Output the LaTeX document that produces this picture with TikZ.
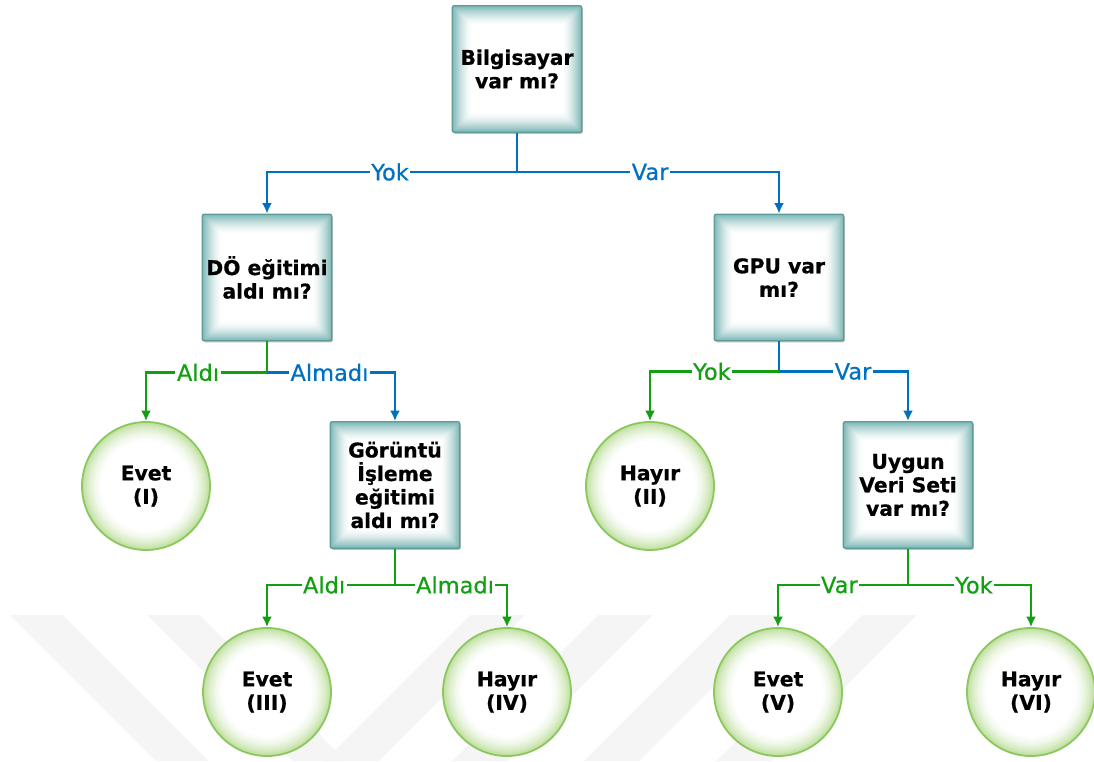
\documentclass[tikz,border=0pt]{standalone}
\usepackage{fontspec}
\setmainfont{DejaVu Sans}
\newfontface\boxfont{DejaVu Sans Bold}[FakeBold=0.6]
\newfontface\armfont{DejaVu Sans}[FakeBold=0.5]
\usetikzlibrary{arrows.meta,calc,shadows}

\definecolor{edgeblue}{HTML}{0070C0}
\definecolor{edgegreen}{HTML}{12A012}
\definecolor{boxrim}{HTML}{5E9C9C}
\definecolor{boxglow}{HTML}{7DB8B6}
\definecolor{leafrim}{HTML}{8CC85E}
\definecolor{leafglow}{HTML}{BEDF9E}
\definecolor{bgmark}{HTML}{F5F5F5}

\tikzset{
  qbox/.style={rectangle, rounded corners=2pt, minimum width=129.5pt, minimum height=126.5pt,
    draw=boxrim, line width=1.4pt, align=center, inner sep=0pt,
    font=\boxfont\fontsize{20.3}{23.5}\selectfont,
    drop shadow={shadow xshift=1.2pt, shadow yshift=-1.5pt, opacity=0.25, fill=black},
    path picture={
      \foreach \k in {0,...,19}{
        \pgfmathtruncatemacro\p{100*(1-\k/20)^1.6}
        \fill[boxglow!\p!white]
          ([shift={(\k pt,-\k pt)}]path picture bounding box.north west) rectangle
          ([shift={(-\k pt,\k pt)}]path picture bounding box.south east);
      }}},
  leaf/.style={circle, minimum size=128pt, draw=leafrim, line width=1.8pt, align=center,
    inner sep=0pt, font=\boxfont\fontsize{20.3}{23.5}\selectfont,
    path picture={
      \foreach \k in {0,...,20}{
        \pgfmathtruncatemacro\p{100*(1-\k/21)^1.7}
        \pgfmathsetmacro\r{64-\k}
        \fill[leafglow!\p!white] (path picture bounding box.center) circle[radius=\r pt];
      }}},
  bl/.style={draw=edgeblue, line width=2.5pt},
  gr/.style={draw=edgegreen, line width=2.5pt},
  tip/.style={-{Latex[length=10.5pt,width=10pt]}},
  lbl/.style={fill=white, inner sep=1.5pt, font=\armfont\fontsize{22.5}{25}\selectfont},
  lblb/.style={lbl, text=edgeblue},
  lblg/.style={lbl, text=edgegreen},
  stripe/.style={fill=bgmark, draw=none}
}

\begin{document}
\begin{tikzpicture}[x=1pt, y=-1pt]
\useasboundingbox (0,0) rectangle (1094,761);
\fill[white] (0,0) rectangle (1094,761);

% faint background stripes
\foreach \x in {10,147}{
  \fill[stripe] (\x,615) -- (\x+53,615) -- (\x+53+146,761) -- (\x+146,761) -- cycle;
}
\foreach \x in {470,598,730,862}{
  \fill[stripe] (\x,615) -- (\x+55,615) -- (\x+55-146,761) -- (\x-146,761) -- cycle;
}

% decision boxes
\node[qbox] (root)  at (517,69)    {Bilgisayar\\var mı?};
\node[qbox] (do)    at (267,277.5) {DÖ eğitimi\\aldı mı?};
\node[qbox] (gpu)   at (779,277.5) {GPU var\\mı?};
\node[qbox] (goru)  at (395,485)   {Görüntü\\İşleme\\eğitimi\\aldı mı?};
\node[qbox] (uygun) at (908,485)   {Uygun\\Veri Seti\\var mı?};

% outcomes
\node[leaf] (l1) at (146,486)  {Evet\\(I)};
\node[leaf] (l2) at (650,486)  {Hayır\\(II)};
\node[leaf] (l3) at (267,692)  {Evet\\(III)};
\node[leaf] (l4) at (507,692)  {Hayır\\(IV)};
\node[leaf] (l5) at (778,692)  {Evet\\(V)};
\node[leaf] (l6) at (1031,692) {Hayır\\(VI)};

% branch points
\coordinate (j0) at ($(root.south)+(0,39)$);
\coordinate (j1) at ($(do.south)+(0,31)$);
\coordinate (j2) at ($(gpu.south)+(0,30)$);
\coordinate (j3) at ($(goru.south)+(0,36)$);
\coordinate (j4) at ($(uygun.south)+(0,36)$);

% connectors
\draw[bl] (root.south) -- (j0);
\draw[bl,tip] (j0) -| node[lblb,pos=.254] {Yok} (do.north);
\draw[bl,tip] (j0) -| node[lblb,pos=.254] {Var} (gpu.north);

\draw[gr] (do.south) -- (j1);
\draw[gr,tip] (j1) -| node[lblg,pos=.285] {Aldı} (l1.north);
\draw[bl,tip] (j1) -| node[lblb,pos=.244] {Almadı} (goru.north);

\draw[bl] (gpu.south) -- (j2);
\draw[gr,tip] (j2) -| node[lblg,pos=.26] {Yok} (l2.north);
\draw[bl,tip] (j2) -| node[lblb,pos=.287] {Var} (uygun.north);

\draw[gr] (goru.south) -- (j3);
\draw[gr,tip] (j3) -| node[lblg,pos=.277] {Aldı} (l3.north);
\draw[gr,tip] (j3) -| node[lblg,pos=.268] {Almadı} (l4.north);

\draw[gr] (uygun.south) -- (j4);
\draw[gr,tip] (j4) -| node[lblg,pos=.264] {Var} (l5.north);
\draw[gr,tip] (j4) -| node[lblg,pos=.268] {Yok} (l6.north);
\end{tikzpicture}
\end{document}
